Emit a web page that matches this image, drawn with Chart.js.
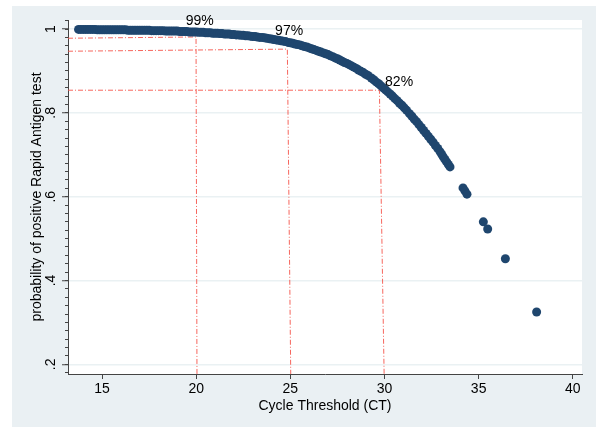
<html>

<head>
  <title>Rapid Antigen test probability</title>
  <style>
    body { margin: 0; background: #fff; }
    .canvas { width: 596px; height: 427px; position: relative; }
  </style>
  <script src="https://cdn.jsdelivr.net/npm/chart.js@4.4.1/dist/chart.umd.min.js"></script>
</head>

<body>
  <div class="canvas">
    <canvas id="chart"></canvas>
  </div>

  <script>
    // values
    const ct = [13.750, 13.875, 14.000, 14.125, 14.250, 14.375, 14.500, 14.625, 14.750, 14.875,
      15.000, 15.125, 15.250, 15.375, 15.500, 15.625, 15.750, 15.875, 16.000, 16.125,
      16.250, 16.375, 16.500, 16.625, 16.750, 16.875, 17.000, 17.125, 17.250, 17.375,
      17.500, 17.625, 17.750, 17.875, 18.000, 18.125, 18.250, 18.375, 18.500, 18.625,
      18.750, 18.875, 19.000, 19.125, 19.250, 19.375, 19.500, 19.625, 19.750, 19.875,
      20.000, 20.125, 20.250, 20.375, 20.500, 20.625, 20.750, 20.875, 21.000, 21.125,
      21.250, 21.375, 21.500, 21.625, 21.750, 21.875, 22.000, 22.125, 22.250, 22.375,
      22.500, 22.625, 22.750, 22.875, 23.000, 23.125, 23.250, 23.375, 23.500, 23.625,
      23.750, 23.875, 24.000, 24.125, 24.250, 24.375, 24.500, 24.625, 24.750, 24.875,
      25.000, 25.125, 25.250, 25.375, 25.500, 25.625, 25.750, 25.875, 26.000, 26.125,
      26.250, 26.375, 26.500, 26.625, 26.750, 26.875, 27.000, 27.125, 27.250, 27.375,
      27.500, 27.625, 27.750, 27.875, 28.000, 28.125, 28.250, 28.375, 28.500, 28.625,
      28.750, 28.875, 29.000, 29.125, 29.300, 29.425, 29.550, 29.675, 29.800, 29.925,
      30.050, 30.175, 30.300, 30.425, 30.550, 30.675, 30.800, 30.925, 31.050, 31.175,
      31.330, 31.455, 31.580, 31.705, 31.830, 31.955, 32.080, 32.205, 32.330, 32.455,
      32.580, 32.705, 32.830, 32.955, 33.040, 33.120, 33.210, 33.300, 33.390, 33.480,
      34.17, 34.27, 34.38, 35.25, 35.48, 36.42, 38.08];
    const prob = [.999, .999, .999, .999, .999, .999, .999, .999, .998, .998,
      .998, .998, .998, .998, .998, .998, .998, .998, .998, .998,
      .998, .997, .997, .997, .997, .997, .997, .997, .997, .997,
      .997, .996, .996, .996, .996, .996, .996, .995, .995, .995,
      .995, .995, .995, .994, .994, .994, .994, .993, .993, .993,
      .993, .992, .992, .992, .991, .991, .991, .990, .990, .990,
      .989, .989, .988, .988, .988, .987, .987, .986, .986, .985,
      .985, .984, .984, .983, .982, .982, .981, .980, .980, .979,
      .978, .977, .976, .975, .974, .973, .972, .971, .970, .968,
      .967, .966, .964, .963, .962, .960, .958, .957, .955, .953,
      .951, .949, .947, .945, .943, .941, .939, .936, .934, .931,
      .929, .926, .923, .920, .918, .915, .912, .909, .906, .902,
      .899, .896, .892, .889, .883, .879, .874, .870, .865, .860,
      .855, .850, .845, .840, .834, .829, .823, .818, .812, .806,
      .798, .792, .785, .779, .772, .765, .758, .751, .744, .737,
      .730, .722, .715, .707, .701, .695, .689, .683, .677, .671,
      .621, .614, .606, .540, .523, .452, .325];

    // dash-dot guide lines (horizontal to the cut-off, then down to the axis)
    const guideCt = [[13.19, 19.99, 20.04], [13.19, 24.84, 25.02], [13.19, 29.73, 29.98]];
    const guideProb = [[0.978, 0.981, 0.177], [0.947, 0.952, 0.177], [0.854, 0.854, 0.177]];

    const labelText = ['99%', '97%', '82%'];
    const labelCt = [19.44, 24.19, 30.03];
    const labelProb = [1.019, 0.996, 0.874];

    const yTicks = [0.2, 0.4, 0.6, 0.8, 1];
    const yTickLabels = ['.2', '.4', '.6', '.8', '1'];

    const xMin = 13.19, xMax = 40.49;
    const yMin = 0.177, yMax = 1.0215;

    const font = 'Liberation Sans, Arial, Helvetica, sans-serif';
    const navy = '#1f466e';
    const red = 'rgba(245, 85, 75, 0.9)';
    const axisColor = '#444';
    const bgColor = '#eaf0f3';
    const gridColor = '#eaf1f3';

    const points = ct.map((x, i) => ({ x, y: prob[i] }));
    const guides = guideCt.map((xs, i) => ({
      type: 'line',
      data: xs.map((x, j) => ({ x, y: guideProb[i][j] })),
      borderColor: red,
      borderWidth: 1,
      borderDash: [5, 2, 1, 2],
      pointRadius: 0,
      fill: false,
      order: 2,
    }));

    const backdrop = {
      id: 'backdrop',
      beforeDraw(chart) {
        const { ctx, chartArea } = chart;
        ctx.save();
        ctx.fillStyle = '#fff';
        ctx.fillRect(0, 0, chart.width, chart.height);
        ctx.fillStyle = bgColor;
        ctx.fillRect(12, 6, chart.width - 12, chart.height - 6);
        ctx.fillStyle = '#fff';
        ctx.fillRect(chartArea.left, chartArea.top, chartArea.right - chartArea.left, chartArea.bottom - chartArea.top);
        ctx.restore();
      },
    };

    const texts = {
      id: 'texts',
      afterDraw(chart) {
        const { ctx } = chart;
        const xs = chart.scales.x;
        const ys = chart.scales.y;
        ctx.save();
        ctx.fillStyle = '#000';
        ctx.font = '14px ' + font;
        // rotated y tick labels
        ctx.textAlign = 'center';
        ctx.textBaseline = 'middle';
        yTicks.forEach((v, i) => {
          ctx.save();
          ctx.translate(51, ys.getPixelForValue(v));
          ctx.rotate(-Math.PI / 2);
          ctx.fillText(yTickLabels[i], 0, 0);
          ctx.restore();
        });
        // percent labels
        ctx.textAlign = 'left';
        labelText.forEach((t, i) => {
          ctx.fillText(t, xs.getPixelForValue(labelCt[i]), ys.getPixelForValue(labelProb[i]));
        });
        ctx.restore();
      },
    };

    window.chartObj = new Chart(document.querySelector('canvas#chart'), {
      type: 'scatter',
      data: {
        datasets: [{
          data: points,
          backgroundColor: navy,
          borderColor: navy,
          borderWidth: 0,
          pointRadius: 4.5,
          order: 1,
        }, ...guides],
      },
      options: {
        responsive: true,
        maintainAspectRatio: false,
        animation: false,
        layout: { padding: { top: 20, right: 14, left: 0, bottom: 0 } },
        plugins: { legend: { display: false }, tooltip: { enabled: false } },
        scales: {
          x: {
            type: 'linear',
            min: xMin,
            max: xMax,
            afterFit(scale) { scale.height = 53; },
            ticks: { stepSize: 5, includeBounds: false, color: '#000', font: { family: font, size: 14 }, padding: 2 },
            grid: { drawOnChartArea: false, tickLength: 5, tickColor: axisColor },
            border: { color: axisColor, width: 1 },
            title: {
              display: true,
              text: 'Cycle Threshold (CT)',
              color: '#000',
              font: { family: font, size: 14 },
              padding: { top: 0, bottom: 12.6 },
            },
          },
          y: {
            type: 'linear',
            position: 'left',
            weight: 1,
            min: yMin,
            max: yMax,
            afterFit(scale) { scale.width = 68; },
            ticks: { stepSize: 0.2, includeBounds: false, display: false },
            grid: { color: gridColor, lineWidth: 1.5, tickLength: 6, tickColor: axisColor, tickWidth: 1 },
            border: { color: axisColor, width: 1 },
            title: {
              display: true,
              text: 'probability of positive Rapid Antigen test',
              color: '#000',
              font: { family: font, size: 14 },
              padding: { top: 28.6, bottom: 0 },
            },
          },
          yMinor: {
            type: 'linear',
            position: 'left',
            weight: 0,
            min: yMin,
            max: yMax,
            afterFit(scale) { scale.width = 0; },
            ticks: { stepSize: 0.02, includeBounds: false, display: false },
            grid: { drawOnChartArea: false, tickLength: 3, tickColor: axisColor },
            border: { display: false },
          },
        },
      },
      plugins: [backdrop, texts],
    });
  </script>
</body>

</html>
